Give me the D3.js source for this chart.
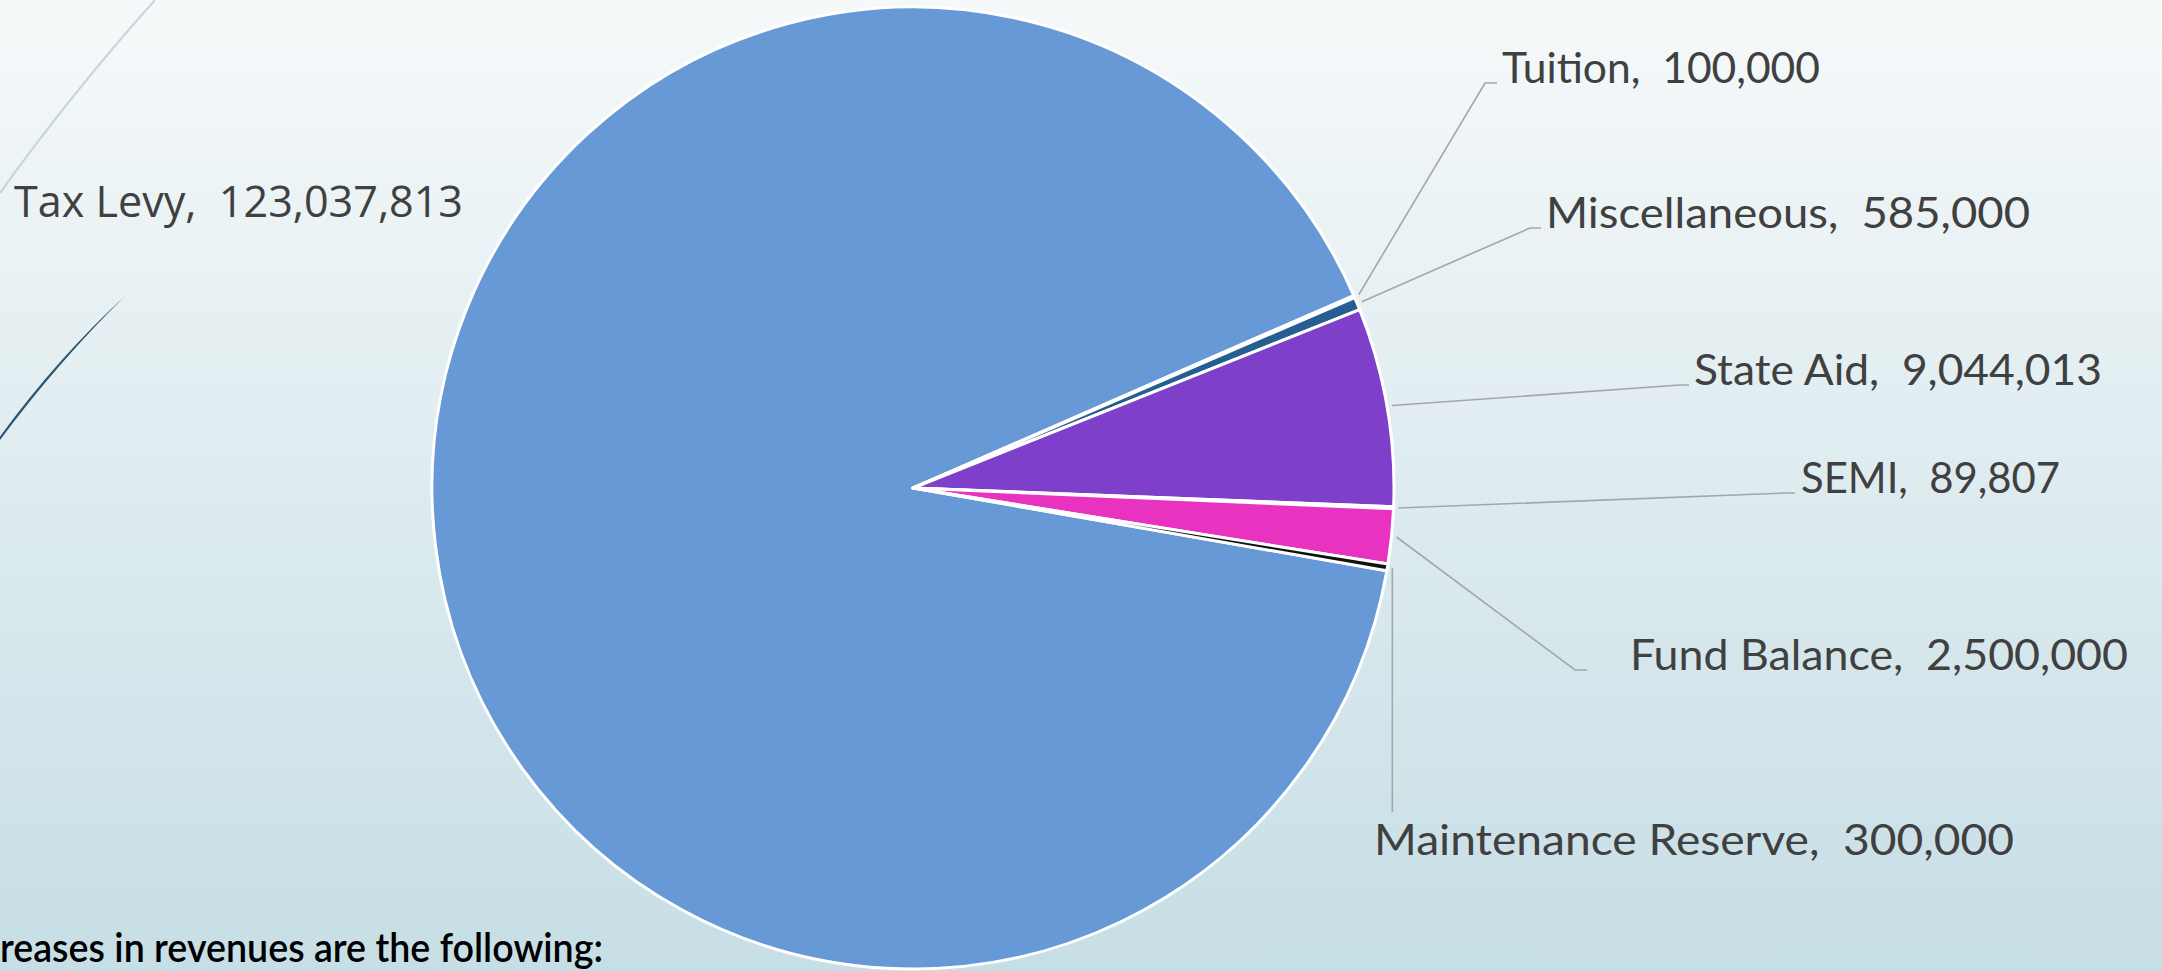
<!DOCTYPE html>
<html>
<head>
<meta charset="utf-8">
<script src="https://cdn.jsdelivr.net/npm/d3@7"></script>
<style>
  html, body { margin: 0; padding: 0; overflow: hidden; }
  svg text { white-space: pre; }
</style>
</head>
<body>
<script>
// ---- data ----
const categories = ["Tax Levy", "Tuition", "Miscellaneous", "State Aid", "SEMI", "Fund Balance", "Maintenance Reserve"];
const values = [123037813, 100000, 585000, 9044013, 89807, 2500000, 300000];
const sliceColors = ["#6699D5", "#4F81BD", "#255E91", "#7E3FCA", "#F08CD6", "#E833C0", "#111111"];
const footerText = "reases in revenues are the following:";

// ---- layout (positions / sizes, not data) ----
const W = 2162, H = 971;
const cx = 913, cy = 488, radius = 481;
const firstSliceAngle = 99.9 * Math.PI / 180;
const labelLayout = [
  { x: 14,   y: 217, w: 449, font: "'Open Sans', sans-serif", leader: null },
  { x: 1502, y: 83,  w: 318, leader: { elbow: [1485, 83], end: [1497, 83] } },
  { x: 1546, y: 228, w: 484, leader: { elbow: [1530, 228], end: [1541, 228] } },
  { x: 1694, y: 385, w: 408, leader: { elbow: [1680, 385], end: [1689, 385] } },
  { x: 1801, y: 493, w: 259, leader: { elbow: [1785, 493], end: [1795, 493] } },
  { x: 1630, y: 670, w: 498, leader: { elbow: [1575, 670], end: [1587, 670] } },
  { x: 1374, y: 855, w: 640, leader: { vertical: 812 } }
];

const svg = d3.select("body").append("svg")
  .attr("width", W).attr("height", H);

// background gradient
const defs = svg.append("defs");
const grad = defs.append("linearGradient").attr("id", "bg")
  .attr("x1", 0).attr("y1", 0).attr("x2", 0).attr("y2", 1);
grad.append("stop").attr("offset", "0%").attr("stop-color", "#F6F9FA");
grad.append("stop").attr("offset", "100%").attr("stop-color", "#C6DEE5");
svg.append("rect").attr("width", W).attr("height", H).attr("fill", "url(#bg)");

// decorative theme curves
svg.append("path")
  .attr("d", "M155,0 Q70,95 0,193")
  .attr("fill", "none").attr("stroke", "#C9D5DB").attr("stroke-width", 2.2);
svg.append("path")
  .attr("d", "M125,296 Q58,362 0,440 L0,436.5 Q57,358.5 125,296 Z")
  .attr("fill", "#2C5572");

// pie
const pie = d3.pie().sort(null).value(d => d.value)
  .startAngle(firstSliceAngle).endAngle(firstSliceAngle + 2 * Math.PI);
const data = categories.map((c, i) => ({ name: c, value: values[i], color: sliceColors[i], layout: labelLayout[i] }));
const arcs = pie(data);
const arc = d3.arc().innerRadius(0).outerRadius(radius);
const leaderArc = d3.arc().innerRadius(radius + 5).outerRadius(radius + 5);

const g = svg.append("g").attr("transform", `translate(${cx},${cy})`);
g.selectAll("path.slice").data(arcs).join("path")
  .attr("class", "slice")
  .attr("d", arc)
  .attr("fill", d => d.data.color)
  .attr("stroke", "#FFFFFF")
  .attr("stroke-width", 3)
  .attr("stroke-linejoin", "round");

// leader lines
const fmt = d3.format(",");
arcs.forEach(a => {
  const L = a.data.layout;
  if (!L.leader) return;
  const c = leaderArc.centroid(a);
  const sx = cx + c[0], sy = cy + c[1];
  let pts;
  if (L.leader.vertical !== undefined) {
    pts = [[sx, sy], [sx, L.leader.vertical]];
  } else {
    pts = [[sx, sy], L.leader.elbow, L.leader.end];
  }
  svg.append("path")
    .attr("d", d3.line()(pts))
    .attr("fill", "none")
    .attr("stroke", "#A6A6A6")
    .attr("stroke-width", 1.6);
});

// labels
arcs.forEach(a => {
  const L = a.data.layout;
  svg.append("text")
    .attr("x", L.x).attr("y", L.y)
    .attr("font-family", L.font || "Lato, 'Open Sans', sans-serif")
    .attr("font-size", 43)
    .attr("fill", "#404040")
    .attr("textLength", L.w)
    .attr("lengthAdjust", "spacingAndGlyphs")
    .text(`${a.data.name},  ${fmt(a.data.value)}`);
});

// footer text (cut-off body text of the slide)
svg.append("text")
  .attr("x", 0).attr("y", 962)
  .attr("font-family", "Lato, sans-serif")
  .attr("font-size", 41)
  .attr("font-weight", 600)
  .attr("fill", "#000000")
  .attr("textLength", 603)
  .attr("lengthAdjust", "spacingAndGlyphs")
  .text(footerText);
</script>
</body>
</html>
